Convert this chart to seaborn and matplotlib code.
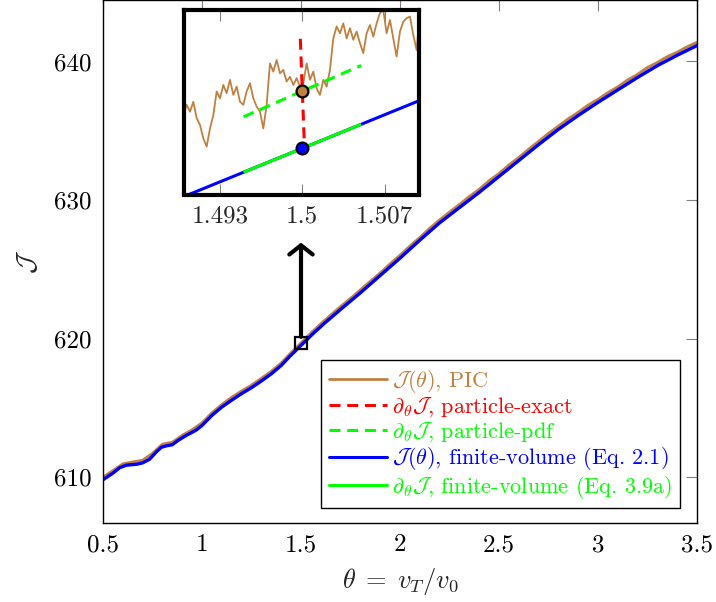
import numpy as np
import matplotlib
matplotlib.use("Agg")
import matplotlib.pyplot as plt
from matplotlib.lines import Line2D
import seaborn as sns

# ---------------- data ----------------
# finite-volume objective J(theta)
theta_fv = [0.50, 0.55, 0.585, 0.62, 0.67, 0.70, 0.735, 0.77, 0.795, 0.82, 0.85,
            0.88, 0.92, 0.97, 1.00, 1.05, 1.10, 1.15, 1.20, 1.25, 1.30, 1.35,
            1.40, 1.44, 1.50, 1.56, 1.62, 1.70, 1.80, 1.90, 2.00, 2.10, 2.20,
            2.30, 2.40, 2.50, 2.60, 2.70, 2.80, 2.90, 3.00, 3.10, 3.20, 3.30,
            3.40, 3.50]
J_fv = [609.80, 610.28, 610.68, 610.86, 610.92, 611.02, 611.28, 611.82, 612.15,
        612.25, 612.33, 612.65, 613.00, 613.38, 613.72, 614.45, 615.05, 615.55,
        616.02, 616.45, 616.93, 617.45, 618.05, 618.66, 619.50, 620.34, 621.12,
        622.10, 623.30, 624.55, 625.80, 627.10, 628.35, 629.45, 630.55, 631.70,
        632.85, 634.00, 635.10, 636.10, 637.05, 637.95, 638.85, 639.70, 640.45,
        641.15]

# PIC estimate of J(theta), full range
theta_pic = np.linspace(0.5, 3.5, 61)
J_pic = [609.98, 610.45, 610.94, 611.08, 611.20, 611.70, 612.36, 612.50, 613.00,
         613.40, 613.90, 614.62, 615.22, 615.75, 616.20, 616.62, 617.12, 617.62,
         618.22, 618.97, 619.667, 620.38, 621.05, 621.68, 622.30, 622.88, 623.50,
         624.12, 624.72, 625.38, 626.00, 626.66, 627.28, 627.95, 628.55, 629.12,
         629.66, 630.24, 630.76, 631.38, 631.90, 632.52, 633.06, 633.66, 634.22,
         634.80, 635.32, 635.86, 636.32, 636.84, 637.26, 637.74, 638.16, 638.66,
         639.06, 639.56, 639.92, 640.34, 640.66, 641.05, 641.38]

# PIC estimate, zoomed window around theta = 1.5
theta_zoom = np.linspace(1.4896, 1.5100, 73)
J_zoom = [619.558, 619.597, 619.627, 619.607, 619.636, 619.588, 619.568, 619.529,
          619.505, 619.558, 619.597, 619.666, 619.646, 619.685, 619.661, 619.700,
          619.656, 619.680, 619.636, 619.627, 619.666, 619.690, 619.646, 619.622,
          619.607, 619.558, 619.627, 619.748, 619.724, 619.758, 619.719, 619.729,
          619.695, 619.709, 619.685, 619.705, 619.680, 619.690, 619.748, 619.700,
          619.724, 619.675, 619.656, 619.700, 619.680, 619.729, 619.821, 619.856,
          619.836, 619.865, 619.821, 619.851, 619.817, 619.841, 619.807, 619.778,
          619.836, 619.860, 619.826, 619.865, 619.895, 619.904, 619.836, 619.875,
          619.821, 619.768, 619.841, 619.870, 619.880, 619.885, 619.831, 619.787,
          619.899]

# sensitivities at theta0
theta0 = 1.5
J_pic0 = 619.667
J_fv0 = 619.50
dJ_exact = -900.0     # particle-exact derivative
dJ_pdf = 15.0         # particle-pdf derivative
dJ_fv = 14.0          # finite-volume derivative
half_exact = 0.00017
half_pdf = 0.005
half_fv = 0.005

x_ticks = [0.5, 1, 1.5, 2, 2.5, 3, 3.5]
x_ticklabels = ["0.5", "1", "1.5", "2", "2.5", "3", "3.5"]
y_ticks = [610, 620, 630, 640]
y_ticklabels = ["610", "620", "630", "640"]
zoom_ticks = [1.493, 1.5, 1.507]
zoom_ticklabels = ["1.493", "1.5", "1.507"]

labels = [r"$\mathcal{J}(\theta)$, PIC",
          r"$\partial_\theta\mathcal{J}$, particle-exact",
          r"$\partial_\theta\mathcal{J}$, particle-pdf",
          r"$\mathcal{J}(\theta)$, finite-volume (Eq. 2.1)",
          r"$\partial_\theta\mathcal{J}$, finite-volume (Eq. 3.9a)"]

# ---------------- style ----------------
sns.set_theme(style="white")
plt.rcParams.update({
    "font.family": "serif",
    "font.serif": ["cmr10"],
    "mathtext.fontset": "cm",
    "axes.unicode_minus": False,
    "axes.formatter.use_mathtext": True,
})

BROWN = "#BF8040"
BLUE = "#0000FF"
RED = "#FF0000"
GREEN = "#00FF00"
DASH = (0, (3.6, 2.2))


def tangent(t0, j0, slope, half):
    t = np.array([t0 - half, t0 + half])
    return t, j0 + slope * (t - t0)


fig = plt.figure(figsize=(7.16, 6.02), dpi=100)
ax = fig.add_axes([103 / 716, 1 - 523 / 602, 594 / 716, 523 / 602])

sns.lineplot(x=theta_pic, y=J_pic, ax=ax, color=BROWN, lw=2.2, sort=False,
             estimator=None)
sns.lineplot(x=theta_fv, y=J_fv, ax=ax, color=BLUE, lw=2.4, sort=False,
             estimator=None)
ax.plot([theta0], [J_pic0], marker="s", ms=9, mfc="none", mec="black", mew=1.6,
        zorder=5)
ax.annotate("", xy=(theta0, 626.92), xytext=(theta0, 620.12),
            arrowprops=dict(arrowstyle="->,head_length=0.33,head_width=0.42",
                            mutation_scale=20, lw=3.0, color="black",
                            shrinkA=0, shrinkB=0))

ax.set_xlim(0.5, 3.5)
ax.set_ylim(606.68, 644.44)
ax.set_xticks(x_ticks, x_ticklabels)
ax.set_yticks(y_ticks, y_ticklabels)
ax.tick_params(axis="both", which="major", direction="in", length=8, width=0.8,
               color="#808080", labelsize=18, pad=8, top=True, right=True,
               labelcolor="black")
for s in ax.spines.values():
    s.set_color("black")
    s.set_linewidth(1.0)
ax.set_xlabel(r"$\theta\;=\;v_T/v_0$", fontsize=19, labelpad=7)
ax.set_ylabel(r"$\mathcal{J}$", fontsize=19, labelpad=10)

handles = [Line2D([], [], color=BROWN, lw=2.0),
           Line2D([], [], color=RED, lw=2.2, ls=DASH),
           Line2D([], [], color=GREEN, lw=2.2, ls=DASH),
           Line2D([], [], color=BLUE, lw=2.2),
           Line2D([], [], color=GREEN, lw=2.2)]
leg = ax.legend(handles, labels, loc="lower right", bbox_to_anchor=(0.972, 0.028),
                borderaxespad=0, fontsize=16, frameon=True, fancybox=False,
                edgecolor="black", framealpha=1, handlelength=2.6,
                handletextpad=0.25, labelspacing=0.05, borderpad=0.35)
leg.get_frame().set_linewidth(1.0)
for txt, col in zip(leg.get_texts(), [BROWN, RED, GREEN, BLUE, GREEN]):
    txt.set_color(col)

# ---------------- zoomed window ----------------
axi = fig.add_axes([184 / 716, 1 - 194.5 / 602, 235 / 716, 184.5 / 602])
axi.set_facecolor("white")
sns.lineplot(x=theta_zoom, y=J_zoom, ax=axi, color=BROWN, lw=1.3, sort=False,
             estimator=None)
sns.lineplot(x=theta_fv, y=J_fv, ax=axi, color=BLUE, lw=2.2, sort=False,
             estimator=None)
t, j = tangent(theta0, J_fv0, dJ_fv, half_fv)
axi.plot(t, j, color=GREEN, lw=2.2, solid_capstyle="butt")
t, j = tangent(theta0, J_pic0, dJ_pdf, half_pdf)
axi.plot(t, j, color=GREEN, lw=2.2, ls=DASH)
t, j = tangent(theta0, J_pic0, dJ_exact, half_exact)
axi.plot(t, j, color=RED, lw=2.2, ls=DASH)
axi.plot([theta0], [J_fv0], marker="o", ms=8.5, mfc=BLUE, mec="black", mew=1.6,
         zorder=6)
axi.plot([theta0], [J_pic0], marker="o", ms=8.5, mfc=BROWN, mec="black", mew=1.6,
         zorder=6)

axi.set_xlim(1.48994, 1.50992)
axi.set_ylim(619.365, 619.904)
axi.set_xticks(zoom_ticks, zoom_ticklabels)
axi.set_yticks([])
axi.tick_params(axis="x", direction="in", length=8, width=0.8, color="#808080",
                labelsize=18, pad=8, top=True, bottom=True)
axi.set_xlabel("")
axi.set_ylabel("")
for s in axi.spines.values():
    s.set_color("black")
    s.set_linewidth(3.0)

fig.savefig("out.png", dpi=100)
